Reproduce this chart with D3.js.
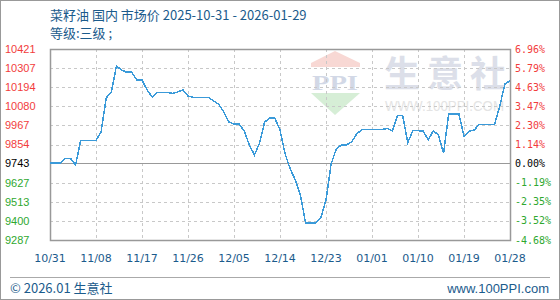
<!DOCTYPE html>
<html>
<head>
<meta charset="utf-8">
<script src="https://cdn.jsdelivr.net/npm/d3@7"></script>
<style>
  body { margin: 0; background: #fff; }
  svg { display: block; }
</style>
</head>
<body>
<script>
'use strict';

// price series, one value per day 10/31 .. 01/29
const prices = [
  9743, 9743, 9743, 9772, 9772, 9732, 9877, 9877, 9877, 9877,
  9930, 10130, 10167, 10320, 10296, 10283, 10283, 10237, 10237, 10178,
  10136, 10164, 10164, 10164, 10157, 10166, 10178, 10142, 10134, 10134,
  10134, 10134, 10112, 10094, 10047, 9988, 9976, 9976, 9934, 9851,
  9792, 9863, 9988, 10010, 10010, 9940, 9798, 9709, 9643, 9554,
  9388, 9388, 9388, 9418, 9525, 9738, 9827, 9851, 9851, 9869,
  9916, 9943, 9943, 9943, 9943, 9944, 9949, 9934, 10025, 10025,
  9865, 9936, 9936, 9934, 9881, 9936, 9910, 9802, 10035, 10035,
  10035, 9904, 9932, 9940, 9974, 9974, 9974, 9974, 10083, 10213,
  10233
];
const baseValue = 9743;
const yTicks = [10421, 10307, 10194, 10080, 9967, 9854, 9743, 9627, 9513, 9400, 9287];
const pctLabels = ['6.96%', '5.79%', '4.63%', '3.47%', '2.30%', '1.14%', '0.00%', '-1.19%', '-2.35%', '-3.52%', '-4.68%'];
const xTickIndex = [0, 9, 18, 27, 36, 45, 54, 63, 72, 81, 90];
const xTickLabels = ['10/31', '11/08', '11/17', '11/26', '12/05', '12/14', '12/23', '01/01', '01/10', '01/19', '01/28'];

const W = 560, H = 300;
const plot = { left: 50, right: 510, top: 49, bottom: 240 };
const blue = '#1b5b8c';
const up = '#f23c3c', down = '#2fa82f';

const svg = d3.select('body').append('svg')
  .attr('width', W)
  .attr('height', H);

// outer frame
svg.append('rect')
  .attr('x', 0.5).attr('y', 0.5)
  .attr('width', W - 1).attr('height', H - 1)
  .attr('fill', '#fff')
  .attr('stroke', '#999');

const x = d3.scaleLinear()
  .domain([0, prices.length - 1])
  .range([plot.left, plot.right]);
const y = d3.scaleLinear()
  .domain([d3.min(yTicks), d3.max(yTicks)])
  .range([plot.bottom, plot.top]);

// watermark
const wm = svg.append('g');
wm.append('path')
  .attr('d', 'M311,63 L335,51 L360,63 L360,67 L311,67 Z')
  .attr('fill', '#f8d8d4');
wm.append('path')
  .attr('d', 'M311,93 L360,93 L335,115 Z')
  .attr('fill', '#d6eed6');
wm.append('text')
  .attr('x', 312).attr('y', 90)
  .style('font', 'bold 22px "Liberation Serif"')
  .attr('fill', '#d2d8e6')
  .attr('textLength', 46)
  .attr('lengthAdjust', 'spacingAndGlyphs')
  .text('PPI');
wm.append('text')
  .attr('x', 384).attr('y', 87)
  .style('font', 'bold 36px "Noto Sans CJK SC"')
  .attr('fill', '#dcdfe9')
  .attr('textLength', 122)
  .text('生意社');
wm.append('text')
  .attr('x', 385).attr('y', 111)
  .style('font', '14px "Liberation Sans"')
  .attr('fill', '#e4e4e4')
  .attr('textLength', 119)
  .attr('lengthAdjust', 'spacingAndGlyphs')
  .text('WWW.100PPI.COM');

// grid
svg.append('g')
  .selectAll('line')
  .data(yTicks.filter(v => v !== baseValue))
  .join('line')
  .attr('x1', plot.left).attr('x2', plot.right)
  .attr('y1', d => Math.round(y(d)) + 0.5)
  .attr('y2', d => Math.round(y(d)) + 0.5)
  .attr('stroke', '#c8c8c8')
  .attr('stroke-dasharray', '3,3');

svg.append('g')
  .selectAll('line')
  .data(xTickIndex)
  .join('line')
  .attr('x1', d => Math.round(x(d)) + 0.5)
  .attr('x2', d => Math.round(x(d)) + 0.5)
  .attr('y1', plot.top).attr('y2', plot.bottom)
  .attr('stroke', '#c8c8c8')
  .attr('stroke-dasharray', '3,3');

// base line
svg.append('line')
  .attr('x1', plot.left).attr('x2', plot.right)
  .attr('y1', Math.round(y(baseValue)) + 0.5)
  .attr('y2', Math.round(y(baseValue)) + 0.5)
  .attr('stroke', '#999');

// plot border
svg.append('rect')
  .attr('x', plot.left + 0.5).attr('y', plot.top + 0.5)
  .attr('width', plot.right - plot.left).attr('height', plot.bottom - plot.top)
  .attr('fill', 'none')
  .attr('stroke', '#999')
  .attr('stroke-width', 1.5);

// left axis labels
svg.append('g')
  .selectAll('text')
  .data(yTicks)
  .join('text')
  .attr('x', 5)
  .attr('y', d => y(d))
  .attr('dy', '0.35em')
  .style('font', '11px "Liberation Sans"')
  .attr('fill', d => d > baseValue ? up : d < baseValue ? down : '#000')
  .text(d => d);

// right axis labels
svg.append('g')
  .selectAll('text')
  .data(yTicks)
  .join('text')
  .attr('x', 515)
  .attr('y', d => y(d))
  .attr('dy', '0.35em')
  .style('font', '10px "DejaVu Sans Mono"')
  .attr('fill', d => d > baseValue ? up : d < baseValue ? down : '#000')
  .text((d, i) => pctLabels[i]);

// x axis labels
svg.append('g')
  .selectAll('text')
  .data(xTickIndex)
  .join('text')
  .attr('x', d => x(d))
  .attr('y', 258)
  .attr('dy', '0.35em')
  .attr('text-anchor', 'middle')
  .style('font', '11px "DejaVu Sans"')
  .attr('fill', blue)
  .text((d, i) => xTickLabels[i]);

// price line
const line = d3.line()
  .x((d, i) => x(i))
  .y(d => y(d));

svg.append('path')
  .datum(prices)
  .attr('d', line)
  .attr('fill', 'none')
  .attr('stroke', '#3a9ad9')
  .attr('stroke-width', 1.5)
  .attr('shape-rendering', 'crispEdges');

// title
svg.append('text')
  .attr('x', 50).attr('y', 20)
  .style('font', '13px "Noto Sans CJK SC"')
  .attr('fill', blue)
  .text('菜籽油 国内 市场价 2025-10-31 - 2026-01-29');
svg.append('text')
  .attr('x', 50).attr('y', 38)
  .style('font', '13px "Noto Sans CJK SC"')
  .attr('fill', blue)
  .text('等级:三级 ;');

// footer
svg.append('line')
  .attr('x1', 10).attr('x2', 550)
  .attr('y1', 277.5).attr('y2', 277.5)
  .attr('stroke', '#aaa');
svg.append('text')
  .attr('x', 10).attr('y', 293)
  .style('font', '13px "Noto Sans CJK SC"')
  .attr('fill', blue)
  .text('© 2026.01 生意社');
svg.append('text')
  .attr('x', 549).attr('y', 293)
  .attr('text-anchor', 'end')
  .style('font', '13px "Liberation Sans"')
  .attr('fill', blue)
  .text('www.100PPI.com');
</script>
</body>
</html>
